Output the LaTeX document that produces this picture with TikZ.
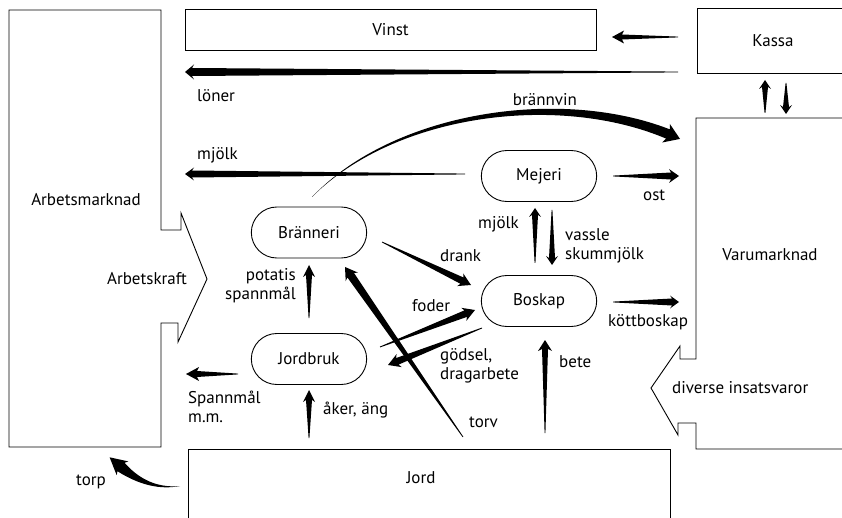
\documentclass[tikz,border=0pt]{standalone}
\usepackage{fontspec}
\setmainfont{PT Sans}
\usetikzlibrary{calc,shapes.misc}

% tapered flow arrow: tail, tip, half body width, half head width, head length
\newcommand{\flowarrow}[5]{%
  \coordinate (fb) at ($(#2)!#5!(#1)$);
  \coordinate (fj) at ($(fb)!2pt!(#2)$);
  \fill[flow] ($(#1)!0.4pt!90:(#2)$) -- ($(fj)!#3!90:(#2)$) -- ($(fb)!#4!90:(#2)$) -- (#2)
    -- ($(fb)!#4!-90:(#2)$) -- ($(fj)!#3!-90:(#2)$) -- ($(#1)!0.4pt!-90:(#2)$) -- cycle;
}

\begin{document}
\begin{tikzpicture}[
    x=1pt, y=-1pt,
    font=\fontsize{17}{19}\selectfont,
    box/.style={draw, line width=0.9pt},
    unit/.style={draw, rounded rectangle, line width=0.9pt, minimum width=122pt, minimum height=51pt},
    lbl/.style={inner sep=0pt},
    flow/.style={fill=black}
  ]
  \useasboundingbox (0,0) rectangle (842,518);

  % --- Markets and accounts ---
  \draw[box] (161,10) -- (9,10) -- (9,447) -- (161,447) -- (161,323) -- (178,323) -- (178,342)
    -- (207,279) -- (181,213) -- (181,230) -- (161,230) -- cycle;
  \draw[box] (850,118) -- (696,118) -- (696,359) -- (680,359) -- (680,346) -- (651,388)
    -- (678,435) -- (678,423) -- (696,423) -- (696,449) -- (850,449);
  \draw[box] (188,530) -- (188,449) -- (670,449) -- (670,530);
  \node[box, minimum width=411pt, minimum height=41pt] (vinst) at (390.5,30) {Vinst};
  \node[box, minimum width=152pt, minimum height=65pt] (kassa) at (773,40.5) {Kassa};
  \node (arbetsmarknad) at (86,200) {Arbetsmarknad};
  \node[lbl, anchor=east] (arbetskraft) at (187,279) {Arbetskraft};
  \node (varumarknad) at (770,255) {Varumarknad};
  \node[lbl, anchor=west] (insatsvaror) at (672,388) {diverse insatsvaror};
  \node (jord) at (421,478) {Jord};

  % --- Activities ---
  \node[unit] (branneri) at (309,232.5) {Bränneri};
  \node[unit] (jordbruk) at (309,359) {Jordbruk};
  \node[unit] (boskap) at (539,301) {Boskap};
  \node[unit] (mejeri) at (539,176) {Mejeri};

  % --- Flow end points ---
  \foreach \n/\p in {vinst-s/{678,37}, vinst-t/{612,37}, loner-s/{678,72}, loner-t/{185,72},
      mjolk-s/{465,174}, mjolk-t/{185,174}, ost-s/{613,176}, ost-t/{679,176},
      kassa-s/{765,113}, kassa-t/{765,80}, varu-s/{786,83}, varu-t/{786,114},
      mejeri-s/{535,263}, mejeri-t/{535,208}, vassle-s/{552,210}, vassle-t/{552,265},
      drank-s/{382,242}, drank-t/{471,285}, foder-s/{380,347}, foder-t/{475,310},
      godsel-s/{482,328}, godsel-t/{388,365}, torv-s/{463,437}, torv-t/{345,267},
      potatis-s/{309,318}, potatis-t/{309,265}, aker-s/{309,438}, aker-t/{309,390},
      bete-s/{545,433}, bete-t/{545,340}, kott-s/{613,302}, kott-t/{679,302},
      spann-s/{238,374}, spann-t/{186,374}}
    \coordinate (\n) at (\p);

  % --- Flows ---
  \flowarrow{vinst-s}{vinst-t}{2.5pt}{6.5pt}{12pt}
  \flowarrow{loner-s}{loner-t}{4pt}{7.5pt}{9pt}
  \flowarrow{mjolk-s}{mjolk-t}{3.5pt}{6.5pt}{9pt}
  \flowarrow{ost-s}{ost-t}{3.5pt}{7pt}{10pt}
  \flowarrow{kassa-s}{kassa-t}{3pt}{6pt}{9pt}
  \flowarrow{varu-s}{varu-t}{3pt}{6pt}{9pt}
  \flowarrow{mejeri-s}{mejeri-t}{3pt}{6pt}{9pt}
  \flowarrow{vassle-s}{vassle-t}{3pt}{6pt}{9pt}
  \flowarrow{drank-s}{drank-t}{3.5pt}{7pt}{12pt}
  \flowarrow{foder-s}{foder-t}{3.5pt}{7pt}{12pt}
  \flowarrow{godsel-s}{godsel-t}{3.5pt}{7pt}{12pt}
  \flowarrow{torv-s}{torv-t}{4pt}{7.5pt}{12pt}
  \flowarrow{potatis-s}{potatis-t}{3pt}{6pt}{12pt}
  \flowarrow{aker-s}{aker-t}{3pt}{6pt}{12pt}
  \flowarrow{bete-s}{bete-t}{3pt}{7pt}{11pt}
  \flowarrow{kott-s}{kott-t}{3.5pt}{6.5pt}{9pt}
  \flowarrow{spann-s}{spann-t}{3pt}{7pt}{13pt}

  % brannvin, curved
  \coordinate (bv-s) at (312,197);
  \coordinate (bv-t) at (680,138.9);
  \fill[flow] (bv-s) .. controls (394,111) and (560.7,86.6) .. (669.9,129.4) -- (669.8,123.9)
    -- (bv-t) -- (662.2,142.5) -- (666.1,138.6) .. controls (559.3,93.4) and (396,113) .. (bv-s) -- cycle;
  % torp, curved
  \coordinate (torp-s) at (180,486);
  \coordinate (torp-t) at (109.6,457.3);
  \fill[flow] (torp-s) .. controls (155,488.5) and (137,477) .. (124.6,462.8) -- (128.3,461.4)
    -- (torp-t) -- (116.7,475.2) -- (117.4,471.2) .. controls (133,481) and (155,491) .. (torp-s) -- cycle;

  % --- Labels ---
  \node[lbl, anchor=west] (l-loner) at (197,96) {löner};
  \node[lbl] (l-brannvin) at (545,100) {brännvin};
  \node[lbl, anchor=west] (l-mjolk) at (197,155) {mjölk};
  \node[lbl, anchor=west] (l-ost) at (643,195) {ost};
  \node[lbl, anchor=east] (l-mjolk2) at (519,224) {mjölk};
  \node[lbl, anchor=west, align=left] (l-vassle) at (565,246) {vassle\\skummjölk};
  \node[lbl, anchor=west] (l-drank) at (440,256) {drank};
  \node[lbl, anchor=east, align=right] (l-potatis) at (296,286) {potatis\\spannmål};
  \node[lbl, anchor=west] (l-foder) at (412,306) {foder};
  \node[lbl, anchor=west, align=left] (l-godsel) at (440,366) {gödsel,\\dragarbete};
  \node[lbl, anchor=west] (l-torv) at (469,422) {torv};
  \node[lbl, anchor=west] (l-bete) at (559,362) {bete};
  \node[lbl, anchor=west] (l-kott) at (608,322) {köttboskap};
  \node[lbl, anchor=west, align=left] (l-spann) at (188,407) {Spannmål\\m.m.};
  \node[lbl, anchor=west] (l-aker) at (323,410) {åker, äng};
  \node[lbl, anchor=west] (l-torp) at (76,482) {torp};

\end{tikzpicture}
\end{document}
